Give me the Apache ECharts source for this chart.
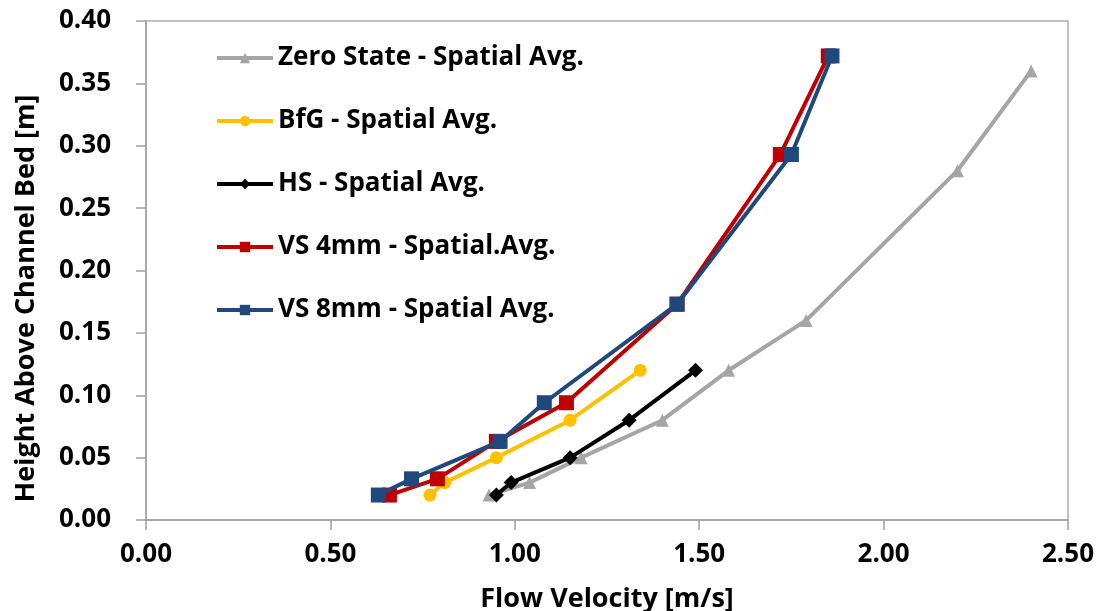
<!DOCTYPE html>
<html>
<head>
<meta charset="utf-8">
<script src="https://cdn.jsdelivr.net/npm/echarts@6/dist/echarts.min.js"></script>
<style>html,body{margin:0;padding:0;background:#fff}#c{width:1102px;height:611px}</style>
</head>
<body>
<div id="c"></div>
<script>
const seriesNames = ['Zero State - Spatial Avg.', 'BfG - Spatial Avg.', 'HS - Spatial Avg.', 'VS 4mm - Spatial.Avg.', 'VS 8mm - Spatial Avg.'];
const zeroVel = [0.93, 1.04, 1.18, 1.40, 1.58, 1.79, 2.20, 2.40];
const zeroH   = [0.02, 0.03, 0.05, 0.08, 0.12, 0.16, 0.28, 0.36];
const bfgVel  = [0.77, 0.81, 0.95, 1.15, 1.34];
const bfgH    = [0.02, 0.03, 0.05, 0.08, 0.12];
const hsVel   = [0.95, 0.99, 1.15, 1.31, 1.49];
const hsH     = [0.02, 0.03, 0.05, 0.08, 0.12];
const vs4Vel  = [0.66, 0.79, 0.95, 1.14, 1.44, 1.72, 1.85];
const vs4H    = [0.02, 0.033, 0.063, 0.094, 0.173, 0.293, 0.372];
const vs8Vel  = [0.63, 0.72, 0.96, 1.08, 1.44, 1.75, 1.86];
const vs8H    = [0.02, 0.033, 0.063, 0.094, 0.173, 0.293, 0.372];
const xTicks = [0, 0.5, 1.0, 1.5, 2.0, 2.5];
const yTicks = [0, 0.05, 0.10, 0.15, 0.20, 0.25, 0.30, 0.35, 0.40];

const colors = ['#A5A5A5', '#FFC000', '#000000', '#C00000', '#1F497D'];
const symbols = ['triangle', 'circle', 'diamond', 'rect', 'rect'];
const sizes = [13, 13, 15, 15, 15];
const vels = [zeroVel, bfgVel, hsVel, vs4Vel, vs8Vel];
const hs = [zeroH, bfgH, hsH, vs4H, vs8H];
const font = '"Open Sans", "Noto Sans", sans-serif';

const chart = echarts.init(document.getElementById('c'), null, {renderer: 'canvas'});
chart.setOption({
  animation: false,
  backgroundColor: '#ffffff',
  grid: {left: 146, right: 34, top: 21, bottom: 91, show: true, borderColor: '#ADADAD', borderWidth: 1.5,
         containLabel: false, outerBoundsMode: 'none'},
  legend: {
    orient: 'vertical', left: 210, top: 38,
    itemWidth: 56, itemHeight: 13, itemGap: 33,
    lineStyle: {width: 4},
    textStyle: {fontFamily: font, fontWeight: 'bold', fontSize: 26, lineHeight: 30, color: '#000'},
    data: seriesNames
  },
  xAxis: {
    type: 'value', min: xTicks[0], max: xTicks[xTicks.length - 1], interval: 0.5,
    name: 'Flow Velocity [m/s]', nameLocation: 'middle', nameGap: 66,
    nameTextStyle: {fontFamily: font, fontWeight: 'bold', fontSize: 27, color: '#000'},
    axisLine: {lineStyle: {color: '#A0A0A0', width: 1.5}},
    axisTick: {show: true, length: 10, lineStyle: {color: '#A0A0A0', width: 1.5}},
    splitLine: {show: false},
    axisLabel: {margin: 22, fontFamily: font, fontWeight: 'bold', fontSize: 26, color: '#000', formatter: v => v.toFixed(2)}
  },
  yAxis: {
    type: 'value', min: yTicks[0], max: yTicks[yTicks.length - 1], interval: 0.05,
    name: 'Height Above Channel Bed [m]', nameLocation: 'middle', nameGap: 106,
    nameTextStyle: {fontFamily: font, fontWeight: 'bold', fontSize: 27, color: '#000', padding: [0, 56, 0, 0]},
    axisLine: {lineStyle: {color: '#A0A0A0', width: 1.5}},
    axisTick: {show: true, length: 10, lineStyle: {color: '#A0A0A0', width: 1.5}},
    splitLine: {show: false},
    axisLabel: {margin: 35, fontFamily: font, fontWeight: 'bold', fontSize: 26, color: '#000', formatter: v => v.toFixed(2)}
  },
  series: seriesNames.map((n, i) => ({
    name: n, type: 'line',
    data: vels[i].map((v, j) => [v, hs[i][j]]),
    symbol: symbols[i], symbolSize: sizes[i], showSymbol: true,
    lineStyle: {color: colors[i], width: 4},
    itemStyle: {color: colors[i]},
    z: 2 + i
  }))
});
</script>
</body>
</html>
